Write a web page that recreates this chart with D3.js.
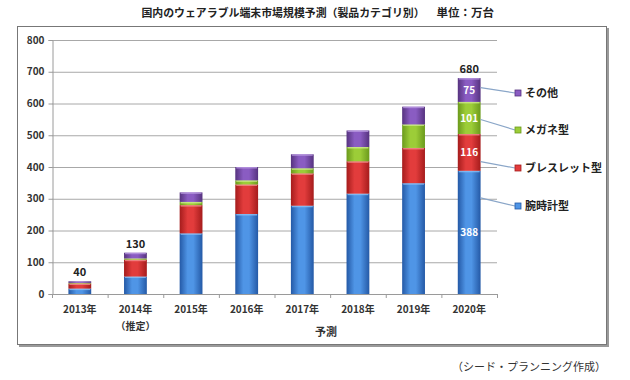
<!DOCTYPE html>
<html><head><meta charset="utf-8">
<script src="https://cdn.jsdelivr.net/npm/d3@7"></script>
<style>
html,body{margin:0;padding:0;background:#fff;}
text{font-family:"Noto Sans CJK JP","Noto Sans",sans-serif;}
</style></head>
<body><svg id="c" width="630" height="380"></svg>
<script>
const years = ["2013年","2014年","2015年","2016年","2017年","2018年","2019年","2020年"];
const subLabels = ["","（推定）","","","","","",""];
const seriesNames = ["腕時計型","ブレスレット型","メガネ型","その他"];
const watch    = [17, 55, 191, 252, 278, 316, 349, 388];
const bracelet = [16, 53,  89,  93, 102, 102, 111, 116];
const glasses  = [ 2,  4,  10,  13,  16,  45,  74, 101];
const other    = [ 5, 18,  30,  42,  44,  52,  56,  75];
const totalLabels = ["40","130","","","","","","680"];
const yTicks = [0,100,200,300,400,500,600,700,800];
const title = "国内のウェアラブル端末市場規模予測（製品カテゴリ別）";
const unit = "単位：万台";
const forecastLabel = "予測";
const source = "（シード・プランニング作成）";

const colors = [
  {edge:"#2459a6", mid:"#4f95e6", top:"#8cc0f5"},
  {edge:"#a51c1c", mid:"#e23c3c", top:"#f39090"},
  {edge:"#6b9a1c", mid:"#9ccd38", top:"#d0ec90"},
  {edge:"#56337f", mid:"#8a5cc2", top:"#b898e0"}
];
const leaderFrac = [0.78, 0.25, 0.45, 0.6];

const svg = d3.select("#c");
const defs = svg.append("defs");
colors.forEach((c,i)=>{
  const g = defs.append("linearGradient").attr("id","g"+i).attr("x1","0").attr("x2","1").attr("y1","0").attr("y2","0");
  g.append("stop").attr("offset","0%").attr("stop-color",c.edge);
  g.append("stop").attr("offset","35%").attr("stop-color",c.mid);
  g.append("stop").attr("offset","60%").attr("stop-color",c.mid);
  g.append("stop").attr("offset","100%").attr("stop-color",c.edge);
});

// frame
svg.append("rect").attr("x",19).attr("y",28).attr("width",590).attr("height",319).attr("fill","#9a9a9a");
svg.append("rect").attr("x",17.5).attr("y",26.5).attr("width",589).attr("height",318).attr("fill","#fff").attr("stroke","#777").attr("stroke-width",1);

// title
svg.append("text").attr("x",283).attr("y",17).attr("text-anchor","middle").attr("font-size",10.9).attr("font-weight","bold").attr("fill","#222").text(title);
svg.append("text").attr("x",494).attr("y",17).attr("text-anchor","end").attr("font-size",11.5).attr("font-weight","bold").attr("fill","#222").text(unit);

const m = {l:52, r:497, t:40, b:294};
const x = d3.scaleBand().domain(years).range([m.l,m.r]).paddingInner(0.59).paddingOuter(0.295);
const y = d3.scaleLinear().domain([0,800]).range([m.b,m.t]);

// grid
svg.append("g").selectAll("line").data(yTicks.filter(d=>d>0)).join("line")
  .attr("x1",m.l).attr("x2",m.r).attr("y1",d=>y(d)+0.5).attr("y2",d=>y(d)+0.5)
  .attr("stroke","#a8a8a8").attr("stroke-width",1);

// y axis
const ya = svg.append("g").attr("transform",`translate(${m.l+0.5},0)`)
  .call(d3.axisLeft(y).tickValues(yTicks).tickSize(4).tickPadding(4));
ya.select(".domain").attr("stroke","#9a9a9a");
ya.selectAll(".tick line").attr("stroke","#9a9a9a");
ya.selectAll("text").attr("font-size",10).attr("fill","#333").attr("font-family","'Noto Sans','DejaVu Sans',sans-serif").attr("font-weight","600");

// x axis
svg.append("line").attr("x1",m.l).attr("x2",m.r).attr("y1",m.b+0.5).attr("y2",m.b+0.5).attr("stroke","#9a9a9a");
const step = x.step();
svg.append("g").selectAll("line").data(d3.range(years.length+1)).join("line")
  .attr("x1",i=>m.l+i*step+0.5).attr("x2",i=>m.l+i*step+0.5).attr("y1",m.b).attr("y2",m.b+4).attr("stroke","#9a9a9a");
svg.append("g").selectAll("text").data(years).join("text")
  .attr("x",d=>x(d)+x.bandwidth()/2).attr("y",313).attr("text-anchor","middle")
  .attr("font-size",10).attr("font-weight","600").attr("fill","#333").text(d=>d);
svg.append("g").selectAll("text").data(subLabels).join("text")
  .attr("x",(d,i)=>x(years[i])+x.bandwidth()/2).attr("y",330).attr("text-anchor","middle")
  .attr("font-size",10).attr("font-weight","600").attr("fill","#333").text(d=>d);
svg.append("text").attr("x",326).attr("y",336).attr("text-anchor","middle").attr("font-size",11).attr("font-weight","bold").attr("fill","#333").text(forecastLabel);

// stacked bars
const table = years.map((yr,i)=>({year:yr, s0:watch[i], s1:bracelet[i], s2:glasses[i], s3:other[i]}));
const stack = d3.stack().keys(["s0","s1","s2","s3"])(table);
stack.forEach((layer,k)=>{
  const g = svg.append("g");
  g.selectAll("rect.seg").data(layer).join("rect").attr("class","seg")
    .attr("x",d=>x(d.data.year)).attr("width",x.bandwidth())
    .attr("y",d=>y(d[1])).attr("height",d=>y(d[0])-y(d[1]))
    .attr("fill","url(#g"+k+")");
  g.selectAll("rect.hl").data(layer.filter(d=>y(d[0])-y(d[1])>3)).join("rect").attr("class","hl")
    .attr("x",d=>x(d.data.year)+1).attr("width",x.bandwidth()-2)
    .attr("y",d=>y(d[1])).attr("height",1.5)
    .attr("fill",colors[k].top).attr("opacity",0.8);
});

// total labels
svg.append("g").selectAll("text").data(totalLabels).join("text")
  .attr("x",(d,i)=>x(years[i])+x.bandwidth()/2)
  .attr("y",(d,i)=>y(watch[i]+bracelet[i]+glasses[i]+other[i])-5)
  .attr("text-anchor","middle").attr("font-size",11).attr("font-weight","bold").attr("fill","#222")
  .attr("font-family","'Noto Sans','DejaVu Sans',sans-serif").text(d=>d);

// inside labels for last bar
const last = years.length-1;
stack.forEach((layer,k)=>{
  const d = layer[last];
  const cy = (y(d[0])+y(d[1]))/2;
  svg.append("text").attr("x",x(years[last])+x.bandwidth()/2).attr("y",cy+4)
    .attr("text-anchor","middle").attr("font-size",10).attr("font-weight","bold").attr("fill","#fff")
    .attr("font-family","'Noto Sans','DejaVu Sans',sans-serif").text(d.data["s"+k]);
});

// legend with leader lines
const legY = [206,168,130,93];
stack.forEach((layer,k)=>{
  const d = layer[last];
  const sy = y(d[0] + (d[1]-d[0])*leaderFrac[k]);
  const sx = x(years[last])+x.bandwidth();
  svg.append("line").attr("x1",sx).attr("y1",sy).attr("x2",515).attr("y2",legY[k])
    .attr("stroke","#8aa6c8").attr("stroke-width",1.2);
  svg.append("rect").attr("x",515).attr("y",legY[k]-3).attr("width",6).attr("height",6)
    .attr("fill",colors[k].mid).attr("stroke",colors[k].edge).attr("stroke-width",0.8);
  svg.append("text").attr("x",525).attr("y",legY[k]+4).attr("font-size",11).attr("font-weight","600").attr("fill","#222").text(seriesNames[k]);
});

// source
svg.append("text").attr("x",606).attr("y",371).attr("text-anchor","end").attr("font-size",11).attr("fill","#333").text(source);
</script></body></html>
